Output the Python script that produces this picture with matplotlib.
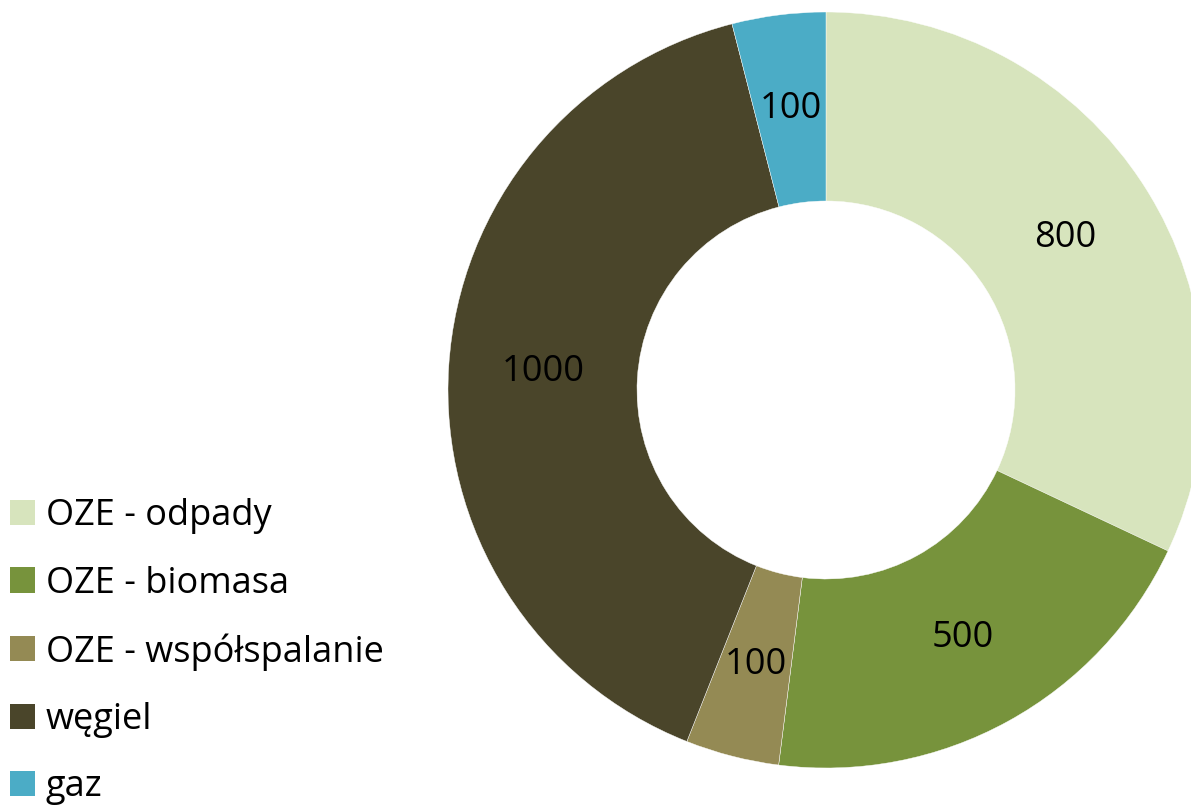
import matplotlib
matplotlib.use("Agg")
import matplotlib.pyplot as plt
from matplotlib.patches import Patch

plt.rcParams['font.family'] = ['Open Sans', 'DejaVu Sans']

categories = ["OZE - odpady", "OZE - biomasa", "OZE - współspalanie", "węgiel", "gaz"]
values = [800, 500, 100, 1000, 100]
colors = ["#D7E4BD", "#77933C", "#948A54", "#4A452A", "#4BACC6"]

W, H, DPI = 1191, 806, 100
fig = plt.figure(figsize=(W / DPI, H / DPI), dpi=DPI)
fig.patch.set_facecolor("white")

# donut centred at (826, 390) px, outer radius 378 px
cx, cy, r = 826, 390, 378
ax = fig.add_axes([(cx - r) / W, (H - cy - r) / H, 2 * r / W, 2 * r / H])
ax.axis("off")

total = sum(values)
wedges, _, autotexts = ax.pie(
    values, colors=colors, radius=1, startangle=90, counterclock=False,
    wedgeprops=dict(width=0.5, edgecolor="white", linewidth=0.3),
    autopct=lambda p: f"{round(p * total / 100)}", pctdistance=0.75,
    textprops=dict(fontsize=26, color="black"),
)
ax.set_xlim(-1, 1)
ax.set_ylim(-1, 1)
ax.set_aspect("equal")

handles = [Patch(facecolor=c, edgecolor="none") for c in colors]
fig.legend(handles, categories, loc="upper left", bbox_to_anchor=(3 / W, 1 - 491 / H),
           frameon=False, fontsize=26, handlelength=0.69, handleheight=0.69,
           handletextpad=0.3, labelspacing=0.87, borderaxespad=0, borderpad=0.2)

fig.savefig("out.png", dpi=DPI)
